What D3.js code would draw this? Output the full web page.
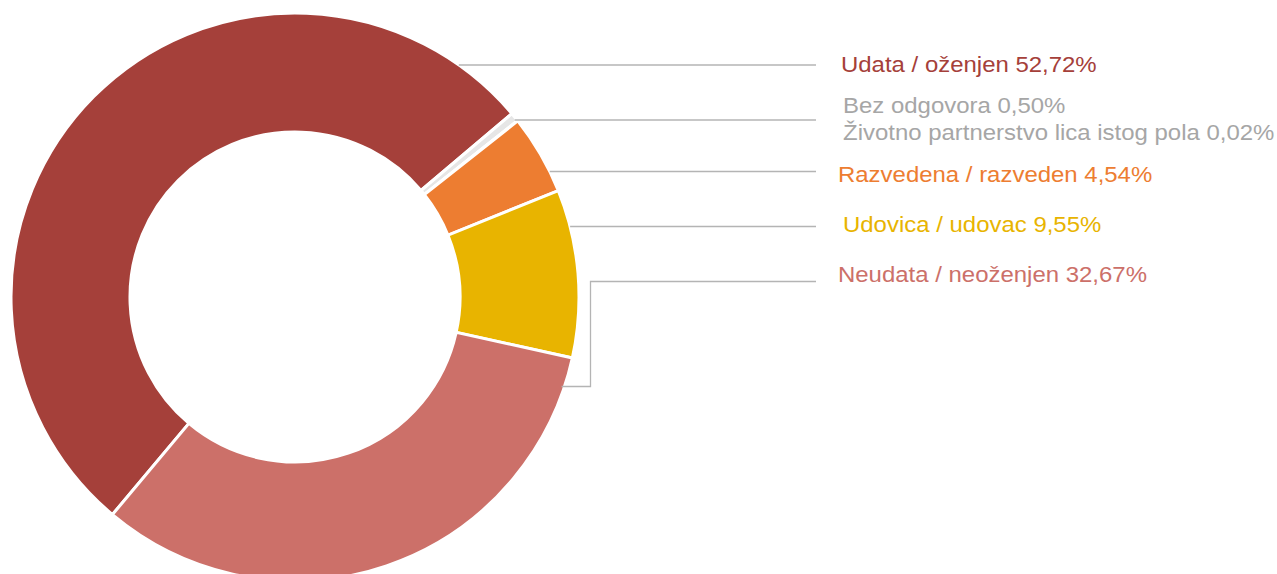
<!DOCTYPE html>
<html>
<head>
<meta charset="utf-8">
<script src="https://cdn.jsdelivr.net/npm/d3@7"></script>
<style>
  html, body { margin: 0; padding: 0; background: #fff; }
  svg { display: block; }
  text { font-family: "Liberation Sans", Arial, sans-serif; }
</style>
</head>
<body>
<svg id="chart" width="1277" height="574"></svg>
<script>
const categories = [
  "Udata / oženjen",
  "Bez odgovora",
  "Životno partnerstvo lica istog pola",
  "Razvedena / razveden",
  "Udovica / udovac",
  "Neudata / neoženjen"
];
const values = [52.72, 0.50, 0.02, 4.54, 9.55, 32.67];
const valueLabels = ["52,72%", "0,50%", "0,02%", "4,54%", "9,55%", "32,67%"];
const colors = ["#a5403a", "#e6e6e6", "#d9d9d9", "#ed7d31", "#e8b400", "#cc7069"];
const labelColors = ["#a5403a", "#a6a6a6", "#a6a6a6", "#ed7d31", "#e8b400", "#cc7069"];

const svg = d3.select("#chart");
const cx = 295, cy = 297, R = 284, r = 165;

const data = categories.map((c, i) => ({ name: c, value: values[i], label: valueLabels[i], color: colors[i], lc: labelColors[i] }));

const start = 220 * Math.PI / 180;
const pie = d3.pie().value(d => d.value).sort(null).startAngle(start).endAngle(start + 2 * Math.PI);
const arc = d3.arc().innerRadius(r).outerRadius(R);
const arcs = pie(data);

const g = svg.append("g").attr("transform", `translate(${cx},${cy})`);
g.selectAll("path").data(arcs).enter().append("path")
  .attr("d", arc)
  .attr("fill", d => d.data.color)
  .attr("stroke", "#fff")
  .attr("stroke-width", 3)
  .attr("stroke-linejoin", "miter");

const lineEndX = 816;
function pt(angle, rad) {
  return [cx + rad * Math.sin(angle), cy - rad * Math.cos(angle)];
}
const lineColor = "#b4b4b4";
const labelSpec = [
  { i: 0, ly: 65, tx: 841, ty: 72 },
  { i: 1, ly: 120, tx: 843, ty: 113 },
  { i: 2, ly: null, tx: 843, ty: 140 },
  { i: 3, ly: 171.5, tx: 838, ty: 182 },
  { i: 4, ly: 226.5, tx: 843, ty: 232 },
  { i: 5, ly: 281.5, tx: 838, ty: 282 }
];

labelSpec.forEach(s => {
  const a = arcs[s.i];
  const mid = (a.startAngle + a.endAngle) / 2;
  if (s.ly !== null) {
    if (s.i === 5) {
      const y0 = 386.5;
      const dy = y0 - cy;
      const x0 = cx + Math.sqrt(R * R - dy * dy) - 3;
      svg.append("polyline")
        .attr("points", `${x0},${y0} 590.5,${y0} 590.5,${s.ly} ${lineEndX},${s.ly}`)
        .attr("fill", "none").attr("stroke", lineColor).attr("stroke-width", 1.3);
    } else {
      const dy = s.ly - cy;
      let x0 = cx + Math.sqrt(Math.max(0, R * R - dy * dy));
      if (s.i === 1) x0 = pt(mid, R)[0];
      svg.append("line")
        .attr("x1", x0).attr("y1", s.ly)
        .attr("x2", lineEndX).attr("y2", s.ly)
        .attr("stroke", lineColor).attr("stroke-width", 1.3);
    }
  }
  svg.append("text")
    .attr("transform", `translate(${s.tx},${s.ty}) scale(1.115,1)`)
    .attr("fill", data[s.i].lc)
    .attr("font-size", 21.5)
    .text(`${data[s.i].name} ${data[s.i].label}`);
});
</script>
</body>
</html>
